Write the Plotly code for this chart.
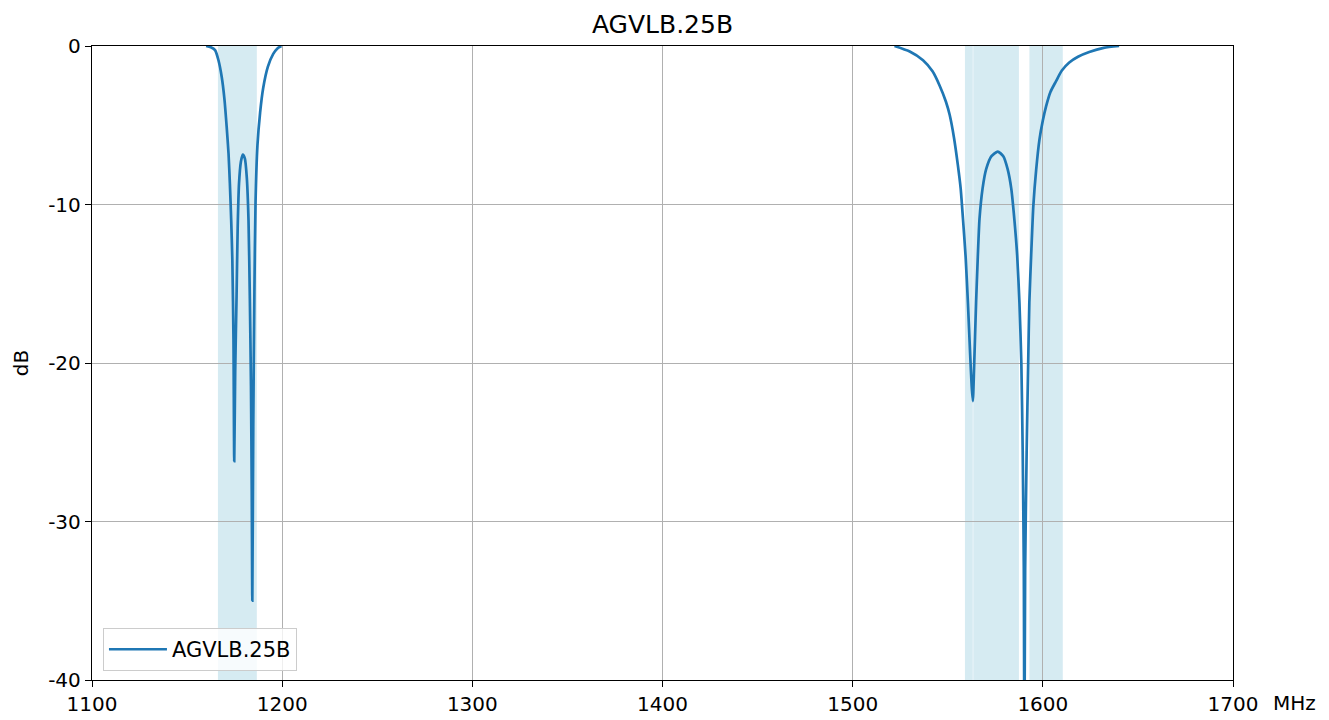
import plotly.graph_objects as go

# ---- data ----
series_name = "AGVLB.25B"

freq_left = [1160.0, 1162.5, 1164.7, 1166.5, 1168.2, 1169.6, 1170.8, 1171.8, 1172.5, 1173.2,
             1173.8, 1174.4, 1174.8, 1175.3, 1176.0, 1176.6, 1177.3, 1178.3, 1179.3, 1180.4,
             1181.4, 1182.3, 1183.0, 1183.6, 1184.0, 1184.3, 1184.8, 1185.4, 1186.0, 1187.0,
             1188.4, 1190.0, 1192.5, 1195.3, 1197.5, 1199.6]
db_left = [0, -0.08, -0.26, -0.9, -1.94, -3.3, -5.07, -6.8, -8.67, -11.0,
           -13.5, -18.5, -26.2, -20.5, -15.9, -11.5, -8.7, -7.3, -6.85, -7.1,
           -8.3, -11.0, -15.9, -21.5, -28.0, -35.0, -24.0, -15.5, -9.86, -6.27,
           -4.2, -2.66, -1.3, -0.5, -0.15, 0]

freq_right = [1522.0, 1530.0, 1537.0, 1542.0, 1545.7, 1549.0, 1551.0, 1553.3, 1555.3, 1556.8,
              1558.0, 1559.4, 1560.6, 1561.8, 1562.6, 1563.2, 1563.8, 1564.9, 1565.8, 1566.7,
              1568.3, 1570.2, 1573.0, 1576.3, 1579.2, 1581.5, 1583.4, 1585.0, 1586.5, 1587.7,
              1588.7, 1589.4, 1590.0, 1590.3, 1590.7, 1591.5, 1592.3, 1592.9, 1594.0, 1595.0,
              1596.5, 1598.2, 1600.0, 1601.7, 1604.0, 1606.9, 1610.0, 1613.9, 1618.5, 1624.4,
              1632.0, 1640.1]
db_right = [0, -0.35, -0.9, -1.6, -2.49, -3.5, -4.34, -5.8, -7.5, -9.0,
            -10.9, -13.3, -16.2, -19.5, -21.5, -22.4, -20.5, -16.2, -13.3, -10.9,
            -9.0, -7.77, -6.95, -6.66, -6.95, -7.77, -9.0, -10.9, -13.2, -16.2,
            -20.0, -25.5, -33.0, -45.0, -33.0, -25.5, -20.0, -16.2, -12.8, -10.1,
            -7.8, -5.92, -4.7, -3.81, -2.9, -2.23, -1.55, -1.04, -0.68, -0.38,
            -0.12, 0]

band_starts = [1166.22, 1559.05, 1563.42, 1592.95]
band_ends = [1186.68, 1563.15, 1587.42, 1610.48]

x_ticks = [1100, 1200, 1300, 1400, 1500, 1600, 1700]
y_ticks = [0, -10, -20, -30, -40]

# ---- figure ----
fig = go.Figure()
fig.add_trace(go.Scatter(
    x=freq_left, y=db_left, mode="lines", name=series_name, legendgroup="s",
    line=dict(color="#1f77b4", width=2.7, shape="spline", smoothing=0.6),
))
fig.add_trace(go.Scatter(
    x=freq_right, y=db_right, mode="lines", name=series_name, legendgroup="s",
    showlegend=False,
    line=dict(color="#1f77b4", width=2.7, shape="spline", smoothing=0.6),
))

for s, e in zip(band_starts, band_ends):
    fig.add_vrect(x0=s, x1=e, fillcolor="#add8e6", opacity=0.5,
                  line_width=0, layer="below")

font_family = "DejaVu Sans"
fig.update_layout(
    width=1329, height=720,
    margin=dict(l=83, r=104, t=38, b=44),
    paper_bgcolor="white", plot_bgcolor="white",
    font=dict(family=font_family, size=20, color="black"),
    title=dict(text="AGVLB.25B", x=0.5, xanchor="center", y=0.978, yanchor="middle",
               xref="paper", font=dict(size=25, color="black")),
    showlegend=True,
    legend=dict(x=0.0096, y=0.014, xanchor="left", yanchor="bottom",
                bgcolor="rgba(255,255,255,0.8)", bordercolor="#cccccc", borderwidth=1,
                font=dict(size=21), itemwidth=58),
    xaxis=dict(range=[1100, 1700], tickvals=x_ticks, ticktext=[str(v) for v in x_ticks],
               showgrid=True, gridcolor="#b0b0b0", gridwidth=1.2,
               showline=True, linecolor="black", linewidth=1.4, mirror=True,
               ticks="outside", ticklen=6, tickcolor="black", zeroline=False),
    yaxis=dict(range=[-40, 0], tickvals=y_ticks, ticktext=[str(v) for v in y_ticks],
               showgrid=True, gridcolor="#b0b0b0", gridwidth=1.2,
               showline=True, linecolor="black", linewidth=1.4, mirror=True,
               ticks="outside", ticklen=6, tickcolor="black", zeroline=False,
               title=dict(text="dB", standoff=14, font=dict(size=20))),
)

fig.add_annotation(text="MHz", xref="paper", yref="paper", x=1.033, y=0,
                   xanchor="left", yanchor="top", yshift=-9, showarrow=False,
                   font=dict(size=20, color="black"))

fig.write_html("out.html")
